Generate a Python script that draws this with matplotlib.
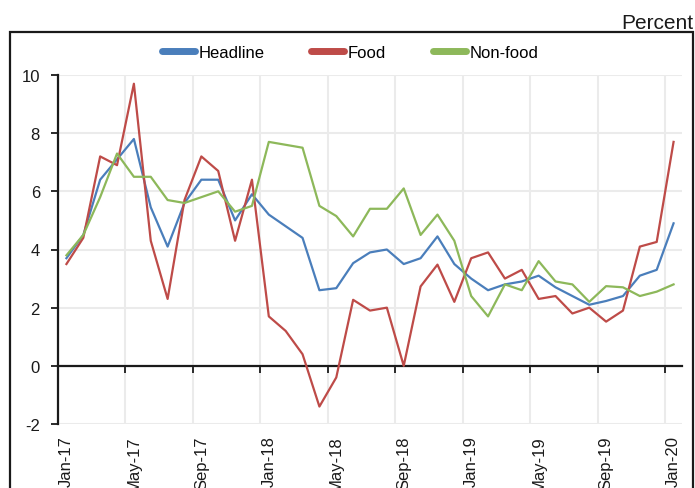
import matplotlib
matplotlib.use("Agg")
import matplotlib.pyplot as plt
from matplotlib.patches import Rectangle
from matplotlib.ticker import FixedLocator, NullFormatter
import numpy as np

plt.rcParams["font.family"] = ["Liberation Sans", "DejaVu Sans"]
plt.rcParams["axes.unicode_minus"] = False

months = ["Jan-17", "Feb-17", "Mar-17", "Apr-17", "May-17", "Jun-17", "Jul-17", "Aug-17",
          "Sep-17", "Oct-17", "Nov-17", "Dec-17", "Jan-18", "Feb-18", "Mar-18", "Apr-18",
          "May-18", "Jun-18", "Jul-18", "Aug-18", "Sep-18", "Oct-18", "Nov-18", "Dec-18",
          "Jan-19", "Feb-19", "Mar-19", "Apr-19", "May-19", "Jun-19", "Jul-19", "Aug-19",
          "Sep-19", "Oct-19", "Nov-19", "Dec-19", "Jan-20"]

headline = [3.7, 4.5, 6.4, 7.1, 7.8, 5.45, 4.1, 5.6, 6.4, 6.4, 5.0, 5.9, 5.2, 4.8, 4.4, 2.6,
            2.67, 3.53, 3.9, 4.0, 3.5, 3.7, 4.45, 3.5, 3.0, 2.6, 2.8, 2.9, 3.1, 2.7, 2.4, 2.1,
            2.23, 2.4, 3.1, 3.3, 4.9]
food = [3.5, 4.4, 7.2, 6.9, 9.7, 4.3, 2.3, 5.7, 7.2, 6.7, 4.3, 6.4, 1.7, 1.2, 0.4, -1.4,
        -0.4, 2.27, 1.9, 2.0, 0.0, 2.73, 3.48, 2.2, 3.7, 3.9, 3.0, 3.3, 2.3, 2.4, 1.8, 2.0,
        1.52, 1.9, 4.1, 4.26, 7.7]
nonfood = [3.8, 4.5, 5.8, 7.3, 6.5, 6.5, 5.7, 5.6, 5.8, 6.0, 5.3, 5.5, 7.7, 7.6, 7.5, 5.5,
           5.15, 4.45, 5.4, 5.4, 6.1, 4.5, 5.2, 4.3, 2.4, 1.7, 2.8, 2.6, 3.6, 2.9, 2.8, 2.2,
           2.74, 2.7, 2.4, 2.55, 2.8]

series = [("Headline", headline, "#4a7ebb"),
          ("Food", food, "#be4b48"),
          ("Non-food", nonfood, "#8db85a")]

W, H = 695, 489
fig = plt.figure(figsize=(W / 100, H / 100), dpi=100)

# outer chart border
fig.add_artist(Rectangle((10 / W, -0.05), (693 - 10) / W, 1 - 33 / H + 0.05,
                         transform=fig.transFigure, fill=False,
                         edgecolor="#1a1a1a", linewidth=1.6, clip_on=False))
fig.text(693 / W, 1 - 29 / H, "Percent", ha="right", va="baseline", fontsize=15,
         color="#1a1a1a")

ax = fig.add_axes([58 / W, 1 - 425 / H, (682 - 58) / W, (425 - 76) / H])
x = np.arange(len(months))
lines = []
for name, vals, col in series:
    ln, = ax.plot(x, vals, color=col, lw=1.6, label=name, zorder=3)
    lines.append(ln)

ax.set_xlim(-0.5, len(months) - 0.5)
ax.set_ylim(-2, 10)
ax.set_yticks(np.arange(-2, 11, 2))
ax.tick_params(axis="y", direction="out", length=5, width=1.3, pad=8,
               labelsize=12, colors="#1a1a1a")

# category boundaries every four months carry ticks and gridlines
bounds = np.arange(-0.5, len(months), 4)
ax.xaxis.set_major_locator(FixedLocator(bounds))
ax.xaxis.set_major_formatter(NullFormatter())
ax.spines["bottom"].set_position(("data", 0))
ax.spines["bottom"].set_linewidth(1.6)
ax.spines["bottom"].set_color("#1a1a1a")
ax.tick_params(axis="x", direction="out", length=5, width=1.3, colors="#1a1a1a")
ax.spines["top"].set_visible(False)
ax.spines["right"].set_visible(False)
ax.spines["left"].set_linewidth(1.6)
ax.spines["left"].set_color("#1a1a1a")
ax.grid(True, color="#ebebeb", lw=1.5, zorder=0)
ax.set_axisbelow(True)

# month labels under the plot area
sec = ax.secondary_xaxis(0)
sec.set_xticks(x[::4])
sec.set_xticklabels(months[::4], rotation=90, fontsize=12, color="#1a1a1a")
sec.tick_params(length=0, pad=8)
sec.spines["bottom"].set_visible(False)

leg = fig.legend(handles=lines, loc="center", bbox_to_anchor=(350 / W, 1 - 53 / H),
                 ncol=3, frameon=False, fontsize=12, handlelength=2.0,
                 handletextpad=0.2, columnspacing=2.8)
for lh in leg.get_lines():
    lh.set_linewidth(5)
    lh.set_solid_capstyle("round")

fig.savefig("out.png", dpi=100)
